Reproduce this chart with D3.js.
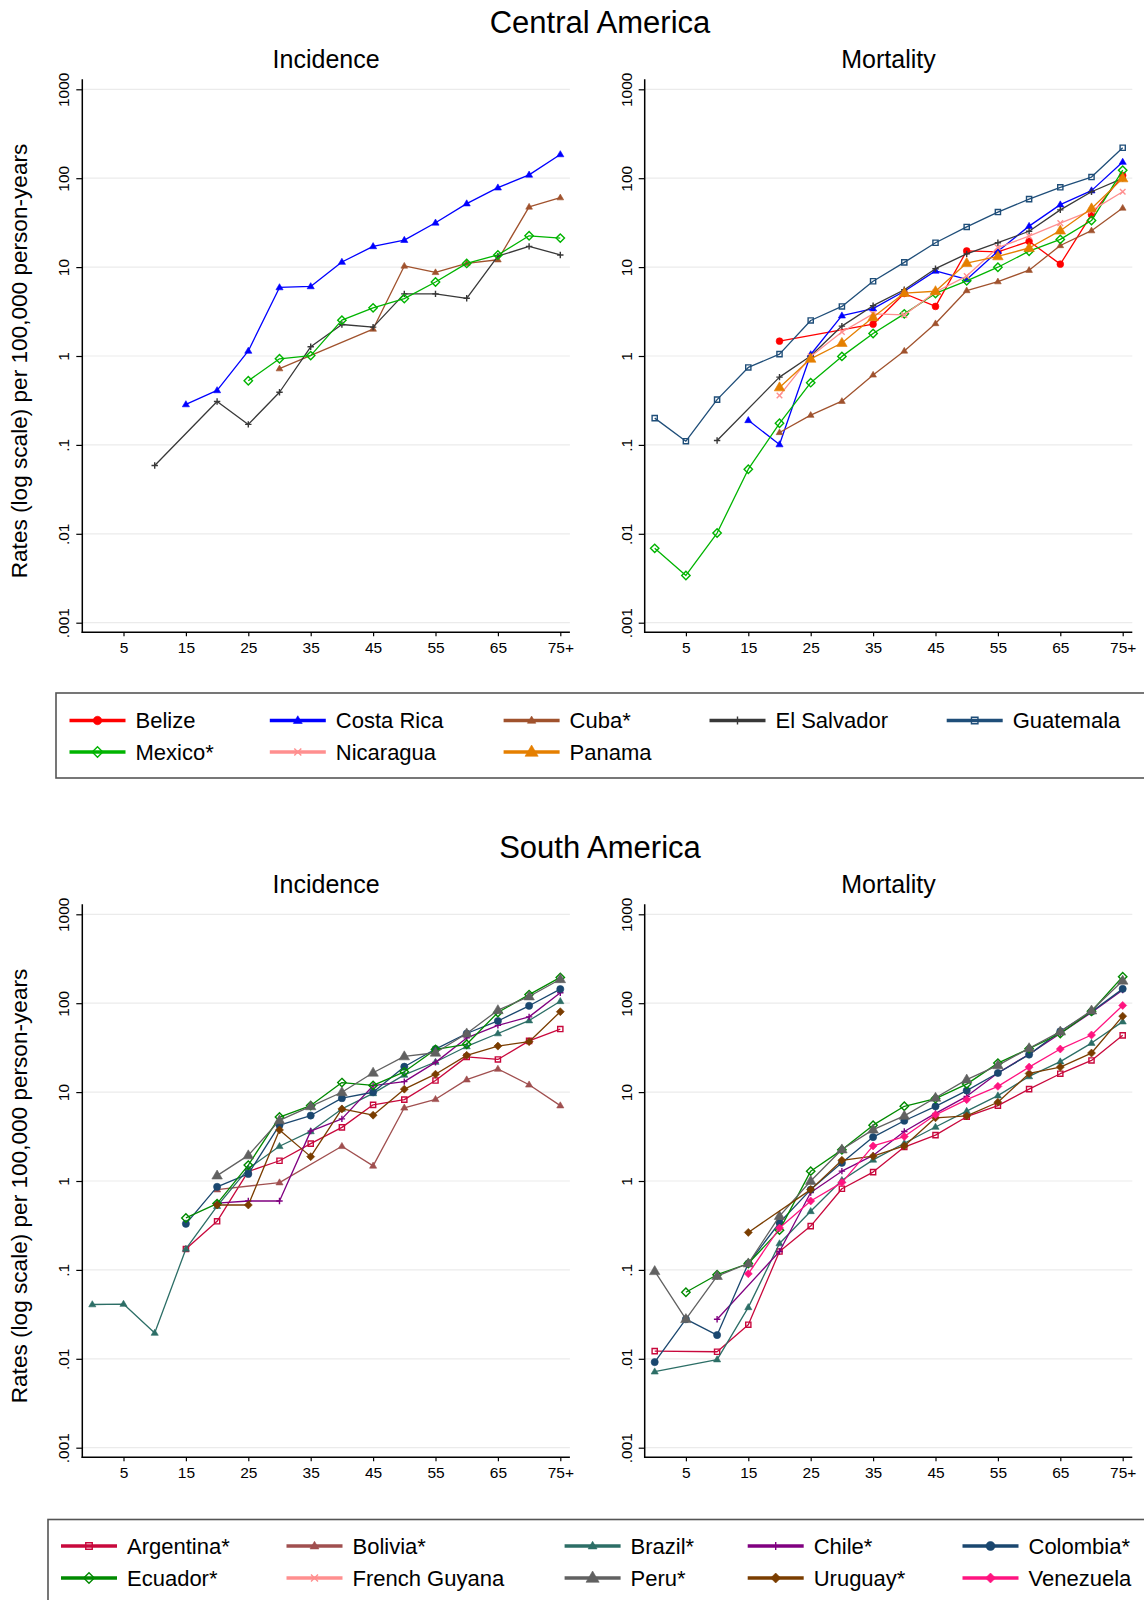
<!DOCTYPE html>
<html>
<head>
<meta charset="utf-8">
<script src="https://cdn.jsdelivr.net/npm/d3@7"></script>
<style>
  html, body { margin: 0; padding: 0; background: #fff; }
  svg { display: block; font-family: "Liberation Sans", Arial, Helvetica, sans-serif; }
</style>
</head>
<body>
<div id="chart"></div>
<script>
// ---------------- DATA ----------------
const ages = [0, 5, 10, 15, 20, 25, 30, 35, 40, 45, 50, 55, 60, 65, 70, 75];
const xTickValues = [5, 15, 25, 35, 45, 55, 65, 75];
const xTickLabels = ["5", "15", "25", "35", "45", "55", "65", "75+"];
const yTickValues = [1000, 100, 10, 1, 0.1, 0.01, 0.001];
const yTickLabels = ["1000", "100", "10", "1", ".1", ".01", ".001"];

const centralCountries = ["Belize", "Costa Rica", "Cuba*", "El Salvador", "Guatemala", "Mexico*", "Nicaragua", "Panama"];
const southCountries = ["Argentina*", "Bolivia*", "Brazil*", "Chile*", "Colombia*", "Ecuador*", "French Guyana", "Peru*", "Uruguay*", "Venezuela"];

// Central America - Incidence
const costaRicaInc  = [null,null,null,0.285,0.41,1.14,5.9,6.06,11.4,17.1,20.1,31.5,51.8,78.2,109,185];
const cubaInc       = [null,null,null,null,null,null,0.72,null,null,2.01,10.3,8.72,11.0,12.1,47.5,60.4];
const elSalvadorInc = [null,null,0.0586,null,0.308,0.17,0.391,1.27,2.26,2.11,5.0,5.0,4.46,13.3,17.1,13.7];
const mexicoInc     = [null,null,null,null,null,0.526,0.93,1.01,2.53,3.48,4.42,6.8,11.0,13.7,22.5,21.2];

// Central America - Mortality
const belizeMort     = [null,null,null,null,1.47,null,null,2.28,5.05,3.61,15.2,14.8,19.5,10.8,38.9,107];
const costaRicaMort  = [null,null,null,0.189,0.101,1.04,2.84,3.41,5.35,9.06,7.27,15.1,28.9,50.4,72.5,152];
const cubaMort       = [null,null,null,null,0.138,0.216,0.31,0.613,1.14,2.32,5.45,6.86,9.23,17.5,25.7,46.2];
const elSalvadorMort = [null,null,0.112,null,0.579,1.0,2.17,3.68,5.56,9.6,14.1,18.8,25.3,44.0,70.4,99.5];
const guatemalaMort  = [0.2,0.11,0.323,0.743,1.05,2.51,3.61,6.93,11.3,18.8,28.3,41.6,58.1,79.0,103,220];
const mexicoMort     = [0.00686,0.0034,0.0102,0.0533,0.175,0.501,0.99,1.79,2.98,5.05,7.0,9.97,15.1,20.5,33.4,123];
const nicaraguaMort  = [null,null,null,null,0.359,0.99,1.86,2.98,2.9,5.25,7.92,16.6,22.3,31.2,43.2,70.4];
const panamaMort     = [null,null,null,null,0.443,0.93,1.4,2.73,5.1,5.35,11.1,13.2,16.4,25.7,45.7,99.5];

// South America - Incidence
const argentinaInc = [null,null,null,0.172,0.352,1.28,1.69,2.63,4.01,7.19,8.22,13.5,24.9,23.3,37.7,51.2];
const boliviaInc   = [null,null,null,null,0.80,null,0.96,null,2.46,1.48,6.66,8.3,13.8,18.2,12.1,7.05];
const brazilInc    = [0.0408,0.0413,0.0195,0.172,0.521,1.38,2.46,3.61,6.47,9.67,15.6,21.8,32.6,45.6,63.8,105];
const chileInc     = [null,null,null,null,0.563,0.596,0.596,3.64,5.0,11.8,13.1,21.6,40.7,56.3,70.2,131];
const colombiaInc  = [null,null,null,0.33,0.86,1.2,4.25,5.45,8.54,9.96,19.3,30.5,45.6,63.1,93.5,144];
const ecuadorInc   = [null,null,null,0.384,0.557,1.51,5.24,7.05,12.8,11.9,16.9,30.2,34.5,78.7,125,195];
const peruInc      = [null,null,null,null,1.15,1.94,4.81,6.92,9.96,16.5,25.2,27.7,45.6,83.4,119,186];
const uruguayInc   = [null,null,null,null,0.537,0.537,3.75,1.88,6.47,5.5,10.8,15.9,25.9,32.9,36.9,80.2];

// South America - Mortality
const argentinaMort = [0.0122,null,0.012,0.0242,0.161,0.311,0.818,1.26,2.41,3.28,5.29,7.05,10.8,16.1,22.7,43.5];
const brazilMort    = [0.00716,null,0.0098,0.0379,0.198,0.456,1.02,1.73,2.66,4.05,6.11,9.12,15.0,22.0,35.6,62.0];
const chileMort     = [null,null,0.0279,null,0.161,0.743,1.29,1.94,3.61,5.77,8.96,16.4,26.7,45.6,78.7,141];
const colombiaMort  = [0.00918,0.0279,0.0185,0.118,0.339,0.80,1.6,3.12,4.76,6.92,10.4,16.4,26.4,48.3,80.2,145];
const ecuadorMort   = [null,0.056,0.0883,0.118,0.28,1.29,2.24,4.25,6.92,8.46,12.3,21.2,30.8,45.6,81.1,199];
const peruMort      = [0.0967,0.0279,0.0853,0.118,0.403,1.0,2.26,3.78,5.4,8.63,13.8,20.0,31.1,47.9,82.6,179];
const uruguayMort   = [null,null,null,0.264,null,0.80,1.71,1.9,2.48,5.14,5.4,7.69,16.2,19.1,27.5,71.5];
const venezuelaMort = [null,null,null,0.0904,0.296,0.596,0.96,2.48,3.16,5.55,8.22,11.6,19.1,30.5,43.9,94.4];

// ---------------- STYLES ----------------
const styles = {
  "Belize":        {color: "#ff0000", marker: "circle",   size: 3.4},
  "Costa Rica":    {color: "#0000ff", marker: "triangle", size: 3.4},
  "Cuba*":         {color: "#a0522d", marker: "triangle", size: 3.2},
  "El Salvador":   {color: "#383838", marker: "plus",     size: 3.2},
  "Guatemala":     {color: "#1f4e79", marker: "squareO",  size: 2.6},
  "Mexico*":       {color: "#00b400", marker: "diamondO", size: 4.2},
  "Nicaragua":     {color: "#ff8f8f", marker: "x",        size: 2.8},
  "Panama":        {color: "#e57f00", marker: "triangle", size: 5},
  "Argentina*":    {color: "#c8083c", marker: "squareO",  size: 2.6},
  "Bolivia*":      {color: "#a04f4f", marker: "triangle", size: 3.4},
  "Brazil*":       {color: "#2c6e66", marker: "triangle", size: 3.4},
  "Chile*":        {color: "#800080", marker: "plus",     size: 3.2},
  "Colombia*":     {color: "#1a476f", marker: "circle",   size: 3.6},
  "Ecuador*":      {color: "#008a00", marker: "diamondO", size: 4.2},
  "French Guyana": {color: "#ff8f8f", marker: "x",        size: 2.8},
  "Peru*":         {color: "#616161", marker: "triangle", size: 5},
  "Uruguay*":      {color: "#7a3d00", marker: "diamond",  size: 4},
  "Venezuela":     {color: "#ff1480", marker: "diamond",  size: 4}
};

// ---------------- LAYOUT ----------------
const W = 1144, H = 1600;
const svg = d3.select("#chart").append("svg").attr("width", W).attr("height", H);
const FONT = '"Liberation Sans", Arial, Helvetica, sans-serif';

function markerPath(type, s) {
  const p = d3.path();
  if (type === "circle") { p.arc(0, 0, s, 0, 2 * Math.PI); p.closePath(); }
  else if (type === "triangle") {
    const h = s * 1.8;
    p.moveTo(0, -h * 0.62); p.lineTo(s * 1.05, h * 0.38); p.lineTo(-s * 1.05, h * 0.38); p.closePath();
  }
  else if (type === "squareO" || type === "square") { p.rect(-s, -s, 2 * s, 2 * s); }
  else if (type === "diamond" || type === "diamondO") {
    p.moveTo(0, -s); p.lineTo(s, 0); p.lineTo(0, s); p.lineTo(-s, 0); p.closePath();
  }
  else if (type === "plus") { p.moveTo(-s, 0); p.lineTo(s, 0); p.moveTo(0, -s); p.lineTo(0, s); }
  else if (type === "x") { p.moveTo(-s, -s); p.lineTo(s, s); p.moveTo(-s, s); p.lineTo(s, -s); }
  return p.toString();
}
function applyMarker(sel, st) {
  const hollow = st.marker === "squareO" || st.marker === "diamondO";
  const stroked = st.marker === "plus" || st.marker === "x";
  sel.attr("d", markerPath(st.marker, st.size))
    .attr("fill", (hollow || stroked) ? "none" : st.color)
    .attr("stroke", st.color)
    .attr("stroke-width", hollow ? 1.4 : (stroked ? 1.4 : 0.6));
}

const PW = 487.6;        // panel width
function drawPanel(left, top, title, series) {
  const g = svg.append("g");
  const y = d3.scaleLog().domain([0.001, 1000]).range([top + 543.4, top + 10]);
  const x = d3.scaleLinear().domain([0, 75]).range([left + 10, left + 478]);
  const bottom = top + 553;

  // gridlines
  g.selectAll("line.grid").data(yTickValues).join("line")
    .attr("x1", left).attr("x2", left + PW)
    .attr("y1", d => y(d)).attr("y2", d => y(d))
    .attr("stroke", "#ebebeb").attr("stroke-width", 1.2);

  // y axis
  const ya = g.append("g").attr("transform", `translate(${left},0)`)
    .call(d3.axisLeft(y).tickValues(yTickValues).tickFormat((d, i) => yTickLabels[i]).tickSize(6).tickSizeOuter(0));
  ya.select(".domain").remove();
  ya.selectAll(".tick line").attr("stroke", "#000").attr("stroke-width", 1.2);
  ya.selectAll(".tick text")
    .attr("x", null).attr("dy", null)
    .attr("transform", "rotate(-90)")
    .attr("y", -13).attr("x", 0)
    .attr("text-anchor", "middle")
    .attr("font-family", FONT).attr("font-size", 15.5).attr("fill", "#000");

  // x axis
  const xa = g.append("g").attr("transform", `translate(0,${bottom})`)
    .call(d3.axisBottom(x).tickValues(xTickValues).tickFormat((d, i) => xTickLabels[i]).tickSize(4).tickSizeOuter(0));
  xa.select(".domain").remove();
  xa.selectAll(".tick line").attr("stroke", "#000").attr("stroke-width", 1.2);
  xa.selectAll(".tick text").attr("y", 21).attr("dy", null)
    .attr("font-family", FONT).attr("font-size", 15.5).attr("fill", "#000");

  // axis lines
  g.append("line").attr("x1", left).attr("x2", left).attr("y1", top).attr("y2", bottom + 0.7)
    .attr("stroke", "#000").attr("stroke-width", 1.5);
  g.append("line").attr("x1", left - 0.7).attr("x2", left + PW).attr("y1", bottom).attr("y2", bottom)
    .attr("stroke", "#000").attr("stroke-width", 1.5);

  // title
  g.append("text").attr("x", left + PW / 2).attr("y", top - 11.5)
    .attr("text-anchor", "middle").attr("font-family", FONT).attr("font-size", 25).text(title);

  const line = d3.line().x(d => x(d.age)).y(d => y(d.v));
  series.forEach(s => {
    const st = styles[s.name];
    const pts = ages.map((a, i) => ({age: a, v: s.values[i]})).filter(d => d.v != null);
    g.append("path").datum(pts).attr("d", line)
      .attr("fill", "none").attr("stroke", st.color).attr("stroke-width", 1.3).attr("stroke-linejoin", "round");
    g.selectAll(null).data(pts).join("path")
      .attr("transform", d => `translate(${x(d.age)},${y(d.v)})`)
      .call(applyMarker, st);
  });
}

function drawLegend(boxX, boxY, boxH, names, cols, rows) {
  const g = svg.append("g");
  g.append("rect").attr("x", boxX).attr("y", boxY).attr("width", W + 20 - boxX).attr("height", boxH)
    .attr("fill", "none").attr("stroke", "#555").attr("stroke-width", 1.6);
  names.forEach((n, i) => {
    const st = styles[n];
    const cx = cols[i % cols.length], cy = rows[Math.floor(i / cols.length)];
    g.append("line").attr("x1", cx).attr("x2", cx + 56).attr("y1", cy).attr("y2", cy)
      .attr("stroke", st.color).attr("stroke-width", 3.6);
    g.append("path").attr("transform", `translate(${cx + 28},${cy})`)
      .call(applyMarker, Object.assign({}, st, {size: st.size * 1.25}));
    g.append("text").attr("x", cx + 66).attr("y", cy).attr("dy", "0.36em")
      .attr("font-family", FONT).attr("font-size", 22).text(n);
  });
}

function drawGroup(offset, groupTitle, incSeries, mortSeries) {
  svg.append("text").attr("x", 600).attr("y", offset + 33).attr("text-anchor", "middle")
    .attr("font-family", FONT).attr("font-size", 31).text(groupTitle);
  svg.append("text").attr("transform", `translate(19,${offset + 361}) rotate(-90)`)
    .attr("text-anchor", "middle").attr("dy", "0.35em")
    .attr("font-family", FONT).attr("font-size", 22.6).text("Rates (log scale) per 100,000 person-years");
  drawPanel(82.3, offset + 79.3, "Incidence", incSeries);
  drawPanel(644.7, offset + 79.3, "Mortality", mortSeries);
}

drawGroup(0, "Central America",
  [{name: "Costa Rica", values: costaRicaInc}, {name: "Cuba*", values: cubaInc},
   {name: "El Salvador", values: elSalvadorInc}, {name: "Mexico*", values: mexicoInc}],
  [{name: "Belize", values: belizeMort}, {name: "Costa Rica", values: costaRicaMort},
   {name: "Cuba*", values: cubaMort}, {name: "El Salvador", values: elSalvadorMort},
   {name: "Guatemala", values: guatemalaMort}, {name: "Mexico*", values: mexicoMort},
   {name: "Nicaragua", values: nicaraguaMort}, {name: "Panama", values: panamaMort}]);
drawLegend(56, 693, 85, centralCountries, [69.5, 269.8, 503.6, 709.5, 946.7], [720.5, 752]);

drawGroup(825, "South America",
  [{name: "Argentina*", values: argentinaInc}, {name: "Bolivia*", values: boliviaInc},
   {name: "Brazil*", values: brazilInc}, {name: "Chile*", values: chileInc},
   {name: "Colombia*", values: colombiaInc}, {name: "Ecuador*", values: ecuadorInc},
   {name: "Peru*", values: peruInc}, {name: "Uruguay*", values: uruguayInc}],
  [{name: "Argentina*", values: argentinaMort}, {name: "Brazil*", values: brazilMort},
   {name: "Chile*", values: chileMort}, {name: "Colombia*", values: colombiaMort},
   {name: "Ecuador*", values: ecuadorMort}, {name: "Peru*", values: peruMort},
   {name: "Uruguay*", values: uruguayMort}, {name: "Venezuela", values: venezuelaMort}]);
drawLegend(48, 1519.5, 100, southCountries, [61, 286.5, 564.6, 747.7, 962.5], [1546, 1578]);
</script>
</body>
</html>
